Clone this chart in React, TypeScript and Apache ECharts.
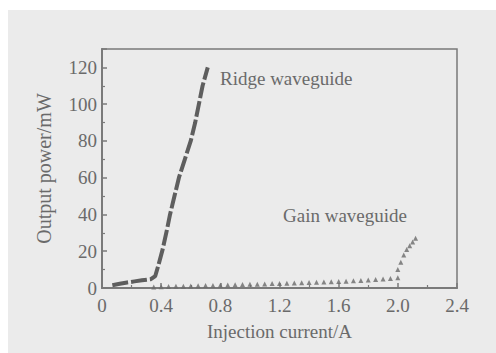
import React, { useEffect, useRef } from "react";
import * as echarts from "echarts";

// Ridge waveguide: [injection current (A), output power (mW)]
const ridgeCurrent = [0.07, 0.12, 0.17, 0.22, 0.27, 0.33, 0.36, 0.38, 0.41, 0.44, 0.46, 0.49, 0.52, 0.56, 0.6, 0.63, 0.655, 0.68, 0.715];
const ridgePower = [1.5, 2.3, 3.0, 3.6, 4.2, 4.8, 6.5, 12, 21, 32, 40, 50, 60, 70, 80, 90, 100, 110, 120];

// Gain waveguide
const gainCurrent = [0.35, 0.4, 0.45, 0.5, 0.55, 0.6, 0.65, 0.7, 0.75, 0.8, 0.85, 0.9, 0.95, 1.0, 1.05, 1.1, 1.15, 1.2, 1.25, 1.3, 1.35, 1.4, 1.45, 1.5, 1.55, 1.6, 1.65, 1.7, 1.75, 1.8, 1.85, 1.9, 1.95, 2.0, 2.0, 2.02, 2.04, 2.06, 2.08, 2.1, 2.12];
const gainPower = [0.6, 0.7, 0.8, 0.9, 1.0, 1.1, 1.2, 1.3, 1.4, 1.5, 1.6, 1.7, 1.9, 2.0, 2.1, 2.2, 2.4, 2.5, 2.6, 2.7, 2.8, 3.0, 3.1, 3.3, 3.4, 3.6, 3.7, 3.9, 4.1, 4.3, 4.6, 4.9, 5.2, 5.6, 10, 14, 18, 21, 23, 25, 27];

const xTicks = [0, 0.4, 0.8, 1.2, 1.6, 2.0, 2.4];
const yTicks = [0, 20, 40, 60, 80, 100, 120];

const xTitle = "Injection current/A";
const yTitle = "Output power/mW";
const ridgeLabel = "Ridge waveguide";
const gainLabel = "Gain waveguide";

const FONT = "'Liberation Serif', 'DejaVu Serif', serif";
const TEXT = "#6a6a6a";
const AXIS = "#7a7a7a";

export default function App() {
  const ref = useRef<HTMLDivElement>(null);
  useEffect(() => {
    if (!ref.current) return;
    const chart = echarts.init(ref.current, undefined, { renderer: "svg" });
    const xInterval = xTicks[1] - xTicks[0];
    const yInterval = yTicks[1] - yTicks[0];
    chart.setOption({
      animation: false,
      backgroundColor: "#ebebeb",
      grid: {
        left: 94,
        top: 39,
        right: 39,
        bottom: 65,
        show: true,
        borderColor: AXIS,
        borderWidth: 1.5,
        backgroundColor: "transparent",
      },
      xAxis: {
        type: "value",
        min: xTicks[0],
        max: xTicks[xTicks.length - 1],
        interval: xInterval,
        name: xTitle,
        nameLocation: "middle",
        nameGap: 34,
        nameTextStyle: { fontFamily: FONT, fontSize: 19, color: TEXT },
        axisLine: { show: true, lineStyle: { color: AXIS, width: 2 } },
        axisTick: { show: true, inside: true, length: 5, lineStyle: { color: AXIS, width: 1.5 } },
        minorTick: { show: true, splitNumber: 2, length: 3, lineStyle: { color: AXIS, width: 1.2 } },
        splitLine: { show: false },
        axisLabel: {
          margin: 8,
          fontFamily: FONT,
          fontSize: 19,
          color: TEXT,
          formatter: (v: number) => (v === 0 ? "0" : v.toFixed(1)),
        },
      },
      yAxis: {
        type: "value",
        min: yTicks[0],
        max: 130,
        interval: yInterval,
        name: yTitle,
        nameLocation: "middle",
        nameGap: 48,
        nameTextStyle: { fontFamily: FONT, fontSize: 20, color: TEXT },
        axisLine: { show: true, lineStyle: { color: AXIS, width: 2 } },
        axisTick: { show: true, inside: true, length: 5, lineStyle: { color: AXIS, width: 1.5 } },
        minorTick: { show: true, splitNumber: 2, length: 3, lineStyle: { color: AXIS, width: 1.2 } },
        splitLine: { show: false },
        axisLabel: {
          margin: 5,
          fontFamily: FONT,
          fontSize: 19,
          color: TEXT,
          showMaxLabel: false,
          formatter: (v: number) => (yTicks.includes(v) ? String(v) : ""),
        },
      },
      series: [
        {
          name: ridgeLabel,
          type: "line",
          data: ridgeCurrent.map((x, i) => [x, ridgePower[i]]),
          showSymbol: false,
          symbol: "none",
          smooth: false,
          lineStyle: { color: "#5e5e5e", width: 4, type: [16, 3] },
        },
        {
          name: gainLabel,
          type: "scatter",
          data: gainCurrent.map((x, i) => [x, gainPower[i]]),
          symbol: "triangle",
          symbolSize: 5,
          itemStyle: { color: "#6a6a6a" },
        },
      ],
      graphic: [
        {
          type: "text",
          left: 212,
          top: 59,
          style: { text: ridgeLabel, font: `19px ${FONT}`, fill: TEXT },
        },
        {
          type: "text",
          left: 275,
          top: 196,
          style: { text: gainLabel, font: `19px ${FONT}`, fill: TEXT },
        },
      ],
    });
    return () => chart.dispose();
  }, []);
  return (
    <div
      ref={ref}
      style={{ position: "fixed", left: 8, top: 10, width: 488, height: 343 }}
    />
  );
}
